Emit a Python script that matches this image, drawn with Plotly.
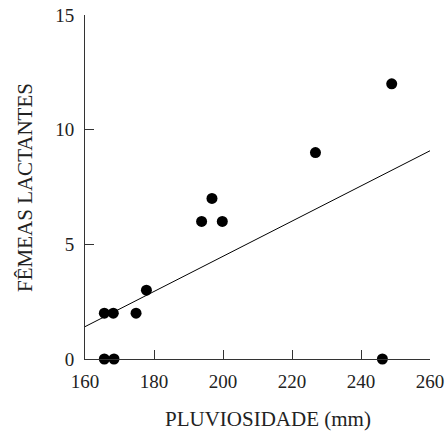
import plotly.graph_objects as go

pluviosidade = [165.6, 168.2, 165.6, 168.4, 174.8, 177.8, 193.8, 196.8, 199.8, 226.8, 246.2, 248.9]
femeas = [2, 2, 0, 0, 2, 3, 6, 7, 6, 9, 0, 12]
fit_x = [160, 260]
fit_y = [1.41, 9.08]
x_ticks = [160, 180, 200, 220, 240, 260]
y_ticks = [0, 5, 10, 15]

fig = go.Figure()
fig.add_trace(go.Scatter(x=fit_x, y=fit_y, mode="lines",
                         line=dict(color="black", width=1), cliponaxis=False, showlegend=False))
fig.add_trace(go.Scatter(x=pluviosidade, y=femeas, mode="markers",
                         marker=dict(color="black", size=11), cliponaxis=False, showlegend=False))

family = "Liberation Serif, Times New Roman, serif"
tickfont = dict(family=family, size=19, color="#222")
titlefont = dict(family=family, size=21, color="#222")
fig.update_layout(
    width=446, height=435,
    margin=dict(l=85, r=16, t=15, b=76),
    plot_bgcolor="white", paper_bgcolor="white",
    font=tickfont,
    xaxis=dict(range=[160, 260], tickvals=x_ticks, ticks="inside", ticklen=9, tickcolor="#333",
               showline=True, linecolor="#333", linewidth=1, showgrid=False, zeroline=False,
               automargin=False, tickfont=tickfont, ticklabelstandoff=5),
    yaxis=dict(range=[0, 15], tickvals=y_ticks, ticks="inside", ticklen=9, tickcolor="#333",
               showline=True, linecolor="#333", linewidth=1, showgrid=False, zeroline=False,
               automargin=False, tickfont=tickfont, ticklabelstandoff=6),
    annotations=[
        dict(text="PLUVIOSIDADE (mm)", xref="paper", yref="paper", x=0.53, y=-0.175,
             xanchor="center", yanchor="middle", showarrow=False, font=titlefont),
        dict(text="FÊMEAS LACTANTES", xref="paper", yref="paper", x=-0.174, y=0.5,
             xanchor="center", yanchor="middle", showarrow=False, textangle=-90, font=titlefont),
    ],
)
fig.write_html("out.html", config={"displayModeBar": False},
               post_script="document.body.style.margin='0';document.body.style.overflow='hidden';")
